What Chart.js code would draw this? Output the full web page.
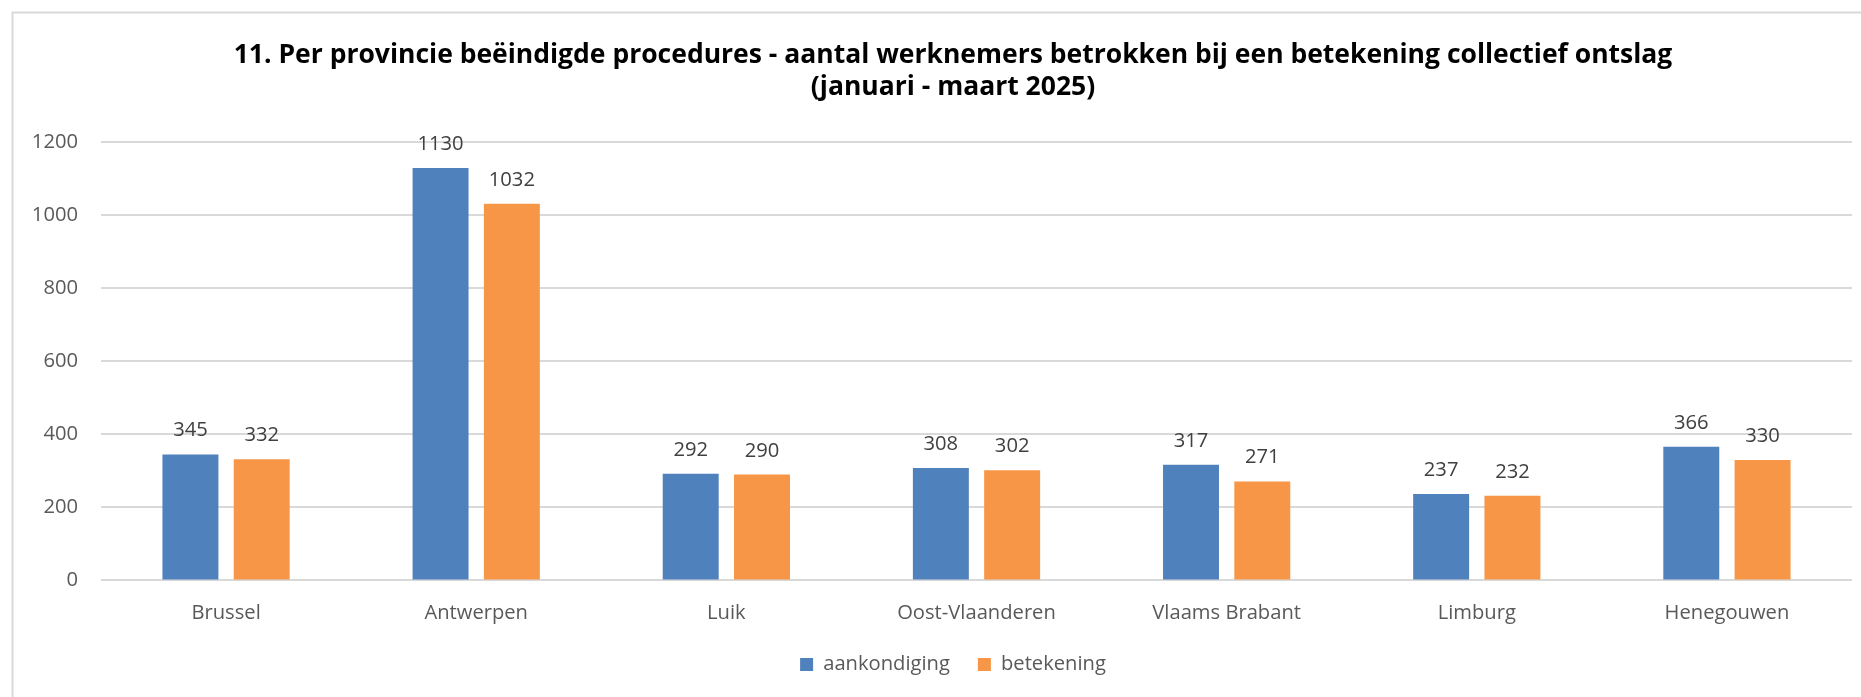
<!DOCTYPE html>
<html><head><meta charset="utf-8">
<script src="https://cdn.jsdelivr.net/npm/chart.js@4.4.1/dist/chart.umd.min.js"></script>
<style>html,body{margin:0;padding:0;background:#fff;overflow:hidden}canvas{display:block}</style>
</head><body>
<canvas id="c" width="1861" height="697"></canvas>
<script>
// ---- data ----
const categories = ["Brussel", "Antwerpen", "Luik", "Oost-Vlaanderen", "Vlaams Brabant", "Limburg", "Henegouwen"];
const aankondiging = [345, 1130, 292, 308, 317, 237, 366];
const betekening = [332, 1032, 290, 302, 271, 232, 330];
const seriesNames = ["aankondiging", "betekening"];
const yMin = 0, yMax = 1200, yStep = 200;
const titleLines = [
  "11. Per provincie beëindigde procedures - aantal werknemers betrokken bij een betekening collectief ontslag",
  "(januari - maart 2025)"
];

// ---- styling / layout helpers ----
const FAMILY = "'Open Sans', 'Noto Sans', 'DejaVu Sans', sans-serif";
const mctx = document.createElement('canvas').getContext('2d');
function fitSize(text, target, weight) {
  mctx.font = (weight || 'normal') + ' 100px ' + FAMILY;
  return 100 * target / mctx.measureText(text).width;
}
function midToBase(size, weight) {
  mctx.font = (weight || 'normal') + ' ' + size + 'px ' + FAMILY;
  mctx.textBaseline = 'middle';
  const d = mctx.measureText('H').actualBoundingBoxDescent;
  mctx.textBaseline = 'alphabetic';
  return d;
}
const titleSize = fitSize(titleLines[0], 1439, 'bold');
const axisSize = (fitSize('Brussel', 68.3) + fitSize('aankondiging', 128.7)) / 2;
const offT = midToBase(titleSize, 'bold');
const offA = midToBase(axisSize);

const areaTop = 142.4, areaBottom = 580.4, areaLeft = 101, areaRight = 1852;
const padLeft = 14;
const yAxisW = areaLeft - padLeft;
const centerLeft = 54; // left edge used to centre title and legend
// title
const titleLH = 32.4;
const titlePadTop = (62.7 - offT) - titleLH / 2;
const titlePadBottom = areaTop - titlePadTop - 2 * titleLH;
// x axis labels
const xLabelPad = (619 - offA) - areaBottom - axisSize * 0.6;
// legend
const legPad = 28, boxSz = 13;
const legendTop = 658 - legPad - (axisSize - boxSz) / 2;
const xAxisH = legendTop - areaBottom;
const legendH = axisSize + legPad + 10;
const padBottom = 697 - (legendTop + legendH);

const framePlugin = {
  id: 'frame',
  afterLayout(chart) {
    if (chart.titleBlock) chart.titleBlock.left = centerLeft;
    if (chart.legend) chart.legend.left = centerLeft;
  },
  beforeDraw(chart) {
    const ctx = chart.ctx;
    ctx.save();
    ctx.fillStyle = '#ffffff';
    ctx.fillRect(0, 0, chart.width, chart.height);
    ctx.strokeStyle = '#D9D9D9';
    ctx.lineWidth = 2;
    ctx.strokeRect(12.5, 12.5, chart.width + 20, chart.height + 20);
    ctx.restore();
  }
};
const valueLabels = {
  id: 'valueLabels',
  afterDatasetsDraw(chart) {
    const ctx = chart.ctx;
    ctx.save();
    ctx.font = 'normal ' + axisSize + 'px ' + FAMILY;
    ctx.fillStyle = '#404040';
    ctx.textAlign = 'center';
    ctx.textBaseline = 'alphabetic';
    chart.data.datasets.forEach((ds, i) => {
      chart.getDatasetMeta(i).data.forEach((el, j) => {
        ctx.fillText(String(ds.data[j]), el.x, el.y - 18);
      });
    });
    ctx.restore();
  }
};

new Chart(document.getElementById('c'), {
  type: 'bar',
  data: {
    labels: categories,
    datasets: [
      { label: seriesNames[0], data: aankondiging, backgroundColor: '#4F81BD', borderWidth: 0 },
      { label: seriesNames[1], data: betekening, backgroundColor: '#F79646', borderWidth: 0 }
    ]
  },
  options: {
    responsive: false,
    animation: false,
    devicePixelRatio: 1,
    categoryPercentage: 0.570,
    barPercentage: 0.785,
    layout: { padding: { left: padLeft, right: 1861 - areaRight, top: 0, bottom: padBottom } },
    plugins: {
      title: {
        display: true,
        text: titleLines,
        color: '#000000',
        font: { family: FAMILY, size: titleSize, weight: 'bold', lineHeight: titleLH / titleSize },
        padding: { top: titlePadTop, bottom: titlePadBottom }
      },
      legend: {
        display: true,
        position: 'bottom',
        labels: {
          color: '#595959',
          font: { family: FAMILY, size: axisSize },
          boxWidth: boxSz,
          boxHeight: boxSz,
          padding: legPad
        }
      },
      tooltip: { enabled: false }
    },
    scales: {
      x: {
        grid: { display: false, drawTicks: false },
        border: { display: false },
        ticks: { color: '#595959', font: { family: FAMILY, size: axisSize }, padding: xLabelPad, maxRotation: 0, autoSkip: false },
        afterFit(s) { s.height = xAxisH; }
      },
      y: {
        min: yMin, max: yMax,
        grid: { color: '#D9D9D9', lineWidth: 2, drawTicks: false },
        border: { display: false },
        ticks: {
          stepSize: yStep, color: '#595959', font: { family: FAMILY, size: axisSize }, padding: 23,
          callback: (v) => String(v)
        },
        afterFit(s) { s.width = yAxisW; }
      }
    }
  },
  plugins: [framePlugin, valueLabels]
});
</script>
</body></html>
